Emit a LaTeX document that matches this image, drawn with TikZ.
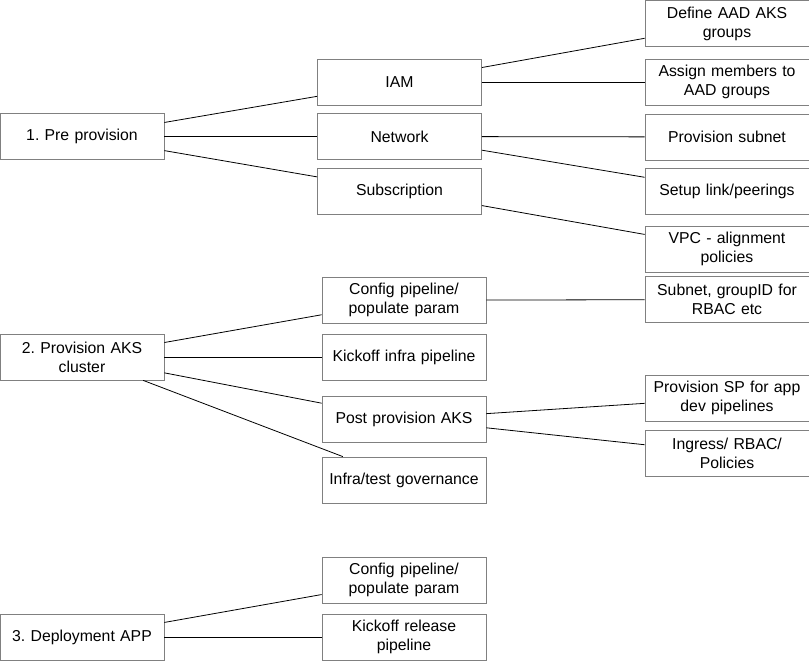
\documentclass[tikz,border=0pt]{standalone}
\usepackage{fontspec}
\setmainfont{Liberation Sans}
\frenchspacing
\begin{document}
\begin{tikzpicture}[x=1pt,y=-1pt,
	box/.style={draw=\BOXCOLOR,line width=0.8pt,fill=white,minimum width=164pt,minimum height=46pt,
		inner sep=2pt,text width=158pt,align=center,font=\fontsize{15.8}{19}\selectfont},
	link/.style={draw=\LINECOLOR,line width=0.8pt}]

\def\BOXCOLOR{black!50}
\def\LINECOLOR{black}
	\useasboundingbox (0,0) rectangle (809,661);
	% 1. pre provision
	\node[box] (pre) at (82,136.5) {1. Pre provision};
	\node[box] (iam) at (399.5,82.3) {IAM};
	\node[box] (net) at (399.5,136.5) {Network};
	\node[box] (sub) at (399.5,191) {Subscription};
	\node[box] (aadgrp) at (727,23.5) {Define AAD AKS\\groups};
	\node[box] (assign) at (727,82.3) {Assign members to\\AAD groups};
	\node[box] (provsub) at (727,137) {Provision subnet};
	\node[box] (setup) at (727,191) {Setup link/peerings};
	\node[box] (vpc) at (727,249) {VPC - alignment\\policies};
	% 2. provision cluster
	\node[box] (cluster) at (82,357) {2. Provision AKS\\cluster};
	\node[box] (cfg) at (404,300.3) {Config pipeline/\\populate param};
	\node[box] (kick) at (404,357) {Kickoff infra pipeline};
	\node[box] (post) at (404,419) {Post provision AKS};
	\node[box] (gov) at (404,480) {Infra/test governance};
	\node[box] (subnetgrp) at (727,299.5) {Subnet, groupID for\\RBAC etc};
	\node[box] (spapp) at (727,398) {Provision SP for app\\dev pipelines};
	\node[box] (ingress) at (727,453.5) {Ingress/ RBAC/\\Policies};
	% 3. deployment
	\node[box] (deploy) at (82,637) {3. Deployment APP};
	\node[box] (cfgapp) at (404,580) {Config pipeline/\\populate param};
	\node[box] (kickrel) at (404,637) {Kickoff release\\pipeline};

	\draw[link] (pre) -- (iam);
	\draw[link] (pre) -- (net);
	\draw[link] (pre) -- (sub);
	\draw[link] (iam) -- (aadgrp);
	\draw[link] (iam) -- (assign);
	\draw[link] (net) -- (provsub);
	\draw[link] (net) -- (setup);
	\draw[link] (sub) -- (vpc);
	\draw[link] (cluster) -- (cfg);
	\draw[link] (cluster) -- (kick);
	\draw[link] (cluster) -- (post);
	\draw[link] (cluster) -- (gov);
	\draw[link] (cfg) -- (subnetgrp);
	\draw[link] (post) -- (spapp);
	\draw[link] (post) -- (ingress);
	\draw[link] (deploy) -- (cfgapp);
	\draw[link] (deploy) -- (kickrel);

\end{tikzpicture}
\end{document}
